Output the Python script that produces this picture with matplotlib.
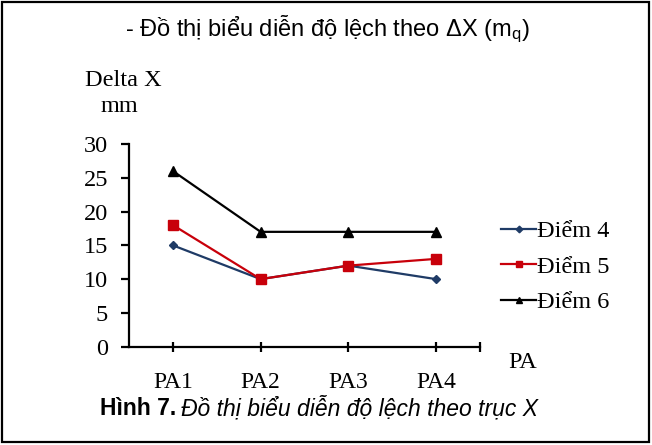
import matplotlib.pyplot as plt
from matplotlib.patches import Rectangle

# du lieu doc tu hinh
categories = ["PA1", "PA2", "PA3", "PA4"]
diem4 = [15, 10, 12, 10]
diem5 = [18, 10, 12, 13]
diem6 = [26, 17, 17, 17]
y_ticks = [0, 5, 10, 15, 20, 25, 30]

serif = "Liberation Serif"
sans = "Liberation Sans"
fs_serif = 17.5
fs_sans = 17

fig = plt.figure(figsize=(6.52, 4.45), dpi=100)
ax = fig.add_axes([129 / 652, 98.3 / 445, 351 / 652, 202.7 / 445])

x = range(len(categories))
ax.plot(x, diem4, color="#1F3B66", lw=1.6, marker="D", ms=4.5, label="Điểm 4")
ax.plot(x, diem5, color="#C8000A", lw=1.6, marker="s", ms=6.5, label="Điểm 5")
ax.plot(x, diem6, color="black", lw=1.6, marker="^", ms=6.5, label="Điểm 6")

ax.set_xlim(-0.5, 3.5)
ax.set_ylim(0, 30)
ax.set_yticks(y_ticks)
ax.set_xticks([0, 1, 2, 3, 3.5])
ax.set_xticklabels(categories + [""])
for s in ["top", "right"]:
    ax.spines[s].set_visible(False)
for s in ["left", "bottom"]:
    ax.spines[s].set_linewidth(1.6)
ax.tick_params(axis="y", direction="out", length=6, width=1.6, pad=9,
               labelsize=fs_serif)
ax.tick_params(axis="x", direction="inout", length=7, width=1.6, pad=15,
               labelsize=17)
for lab in ax.get_xticklabels() + ax.get_yticklabels():
    lab.set_fontfamily(serif)

fig.legend(loc="upper left", bbox_to_anchor=(501 / 652, 1 - 220 / 445),
           frameon=False, prop={"family": serif, "size": fs_serif},
           handlelength=1.45, handletextpad=0.05, labelspacing=0.56,
           markerscale=0.75, borderaxespad=0, borderpad=0)

fig.text(0.502, 1 - 29 / 445, "- Đồ thị biểu diễn độ lệch theo ΔX (m$\\mathregular{_q}$)",
         family=sans, size=fs_sans, ha="center", va="center")
fig.text(123 / 652, 1 - 80 / 445, "Delta X", family=serif, size=fs_serif,
         ha="center", va="center")
fig.text(119 / 652, 1 - 107 / 445, "mm", family=serif, size=fs_serif,
         ha="center", va="center")
fig.text(523 / 652, 1 - 363 / 445, "PA", family=serif, size=fs_serif,
         ha="center", va="center")

# chu thich duoi hinh
t1 = fig.text(100 / 652, 1 - 415 / 445, "Hình 7.", family=sans, size=16.5,
              weight="bold", ha="left", va="baseline")
fig.canvas.draw()
bb = t1.get_window_extent()
fig.text((bb.x1 + 5) / 652, 1 - 415 / 445, "Đồ thị biểu diễn độ lệch theo trục X",
         family=sans, size=16.5, style="italic", ha="left", va="baseline")

fig.patches.append(Rectangle((2 / 652, 3 / 445), 647 / 652, 440 / 445,
                             transform=fig.transFigure, fill=False,
                             lw=1.6, ec="black"))

fig.savefig("out.png", dpi=100)
